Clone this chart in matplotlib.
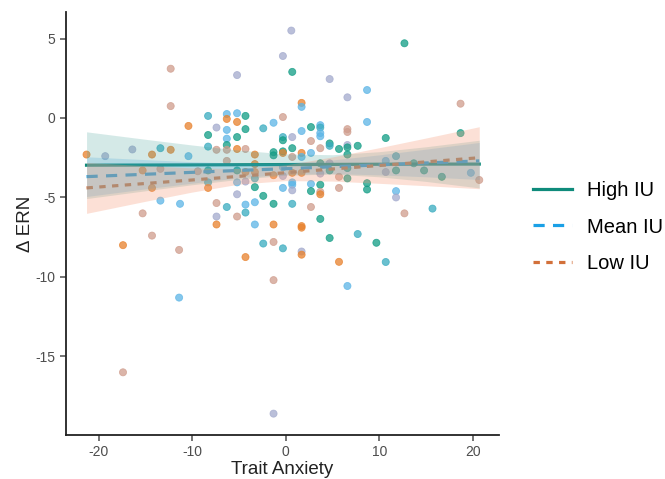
import matplotlib
matplotlib.use("Agg")
import matplotlib.pyplot as plt
import numpy as np
from matplotlib.lines import Line2D

plt.rcParams['font.family'] = ['Liberation Sans', 'DejaVu Sans']
plt.rcParams['axes.unicode_minus'] = False

# ---- scatter data: trait anxiety (centered), delta ERN, colour group ----
pt_x = [-21.3, -19.3, -17.4, -17.4, -16.4, -15.3, -15.3, -14.3, -14.3, -14.3,
        -13.4, -13.4, -13.4, -12.3, -12.3, -12.3, -11.3, -11.4, -11.4, -10.4,
        -10.4, -9.4, -8.3, -8.3, -8.3, -8.3, -8.3, -8.3, -7.4, -7.4,
        -7.4, -7.4, -7.4, -6.3, -6.3, -6.3, -6.3, -6.3, -6.3, -6.3,
        -6.3, -5.2, -5.2, -5.2, -5.2, -5.2, -5.2, -5.2, -5.2, -5.2,
        -4.3, -4.3, -4.3, -4.3, -4.3, -4.3, -4.3, -4.3, -3.3, -3.3,
        -3.3, -3.3, -3.3, -3.3, -3.3, -2.4, -2.4, -2.4, -1.3, -1.3,
        -1.3, -1.3, -1.3, -1.3, -1.3, -1.3, -1.3, 0.6, -0.3, -0.3,
        -0.3, -0.3, -0.3, -0.3, -0.3, -0.3, -0.3, -0.3, 0.7, 0.7,
        0.7, 0.7, 0.7, 0.7, 0.7, 0.7, 0.7, 1.7, 1.7, 1.7,
        1.7, 1.7, 1.7, 1.7, 1.7, 1.7, 1.7, 2.7, 2.7, 2.7,
        2.7, 2.7, 2.7, 3.7, 3.7, 3.7, 3.7, 3.7, 3.7, 3.7,
        3.7, 3.7, 3.7, 3.7, 4.7, 4.7, 4.7, 4.7, 4.7, 4.7,
        5.7, 5.7, 5.7, 5.7, 6.6, 6.6, 6.6, 6.6, 6.6, 6.6,
        6.6, 6.6, 6.6, 7.7, 7.7, 8.7, 8.7, 8.7, 8.7, 9.7,
        10.7, 10.7, 10.7, 10.7, 11.8, 11.8, 11.8, 11.8, 12.7, 12.7,
        13.7, 14.8, 15.7, 16.7, 18.7, 18.7, 19.8, 20.7]
pt_y = [-2.3, -2.4, -8.0, -16.0, -1.98, -3.3, -6.0, -2.3, -4.4, -7.4,
        -1.9, -3.2, -5.2, 3.1, 0.75, -2.0, -5.4, -8.3, -11.3, -0.5,
        -2.4, -3.35, 0.13, -1.07, -1.8, -3.3, -4.05, -4.4, -0.6, -2.0,
        -5.35, -6.2, -6.7, 0.25, -0.06, -0.75, -1.3, -1.7, -2.0, -2.7,
        -5.6, 2.7, 0.3, -0.25, -1.2, -1.95, -3.3, -4.05, -4.8, -6.2,
        0.13, -0.7, -1.95, -3.4, -4.0, -5.45, -5.95, -8.75, -2.3, -2.9,
        -3.4, -3.8, -4.35, -5.3, -6.7, -0.65, -4.9, -7.9, -0.3, -2.15,
        -2.35, -3.6, -5.4, -6.7, -7.8, -10.2, -18.6, 5.5, 3.9, 0.06,
        -1.2, -1.4, -2.1, -2.2, -3.1, -3.65, -4.4, -8.2, 2.9, -1.2,
        -1.9, -2.45, -3.45, -4.05, -4.2, -4.55, -5.4, 0.95, 0.7, -0.82,
        -2.2, -2.45, -3.45, -6.8, -6.9, -8.4, -8.6, -0.57, -1.45, -2.2,
        -4.15, -4.6, -5.6, -0.45, -0.6, -0.95, -1.15, -1.9, -2.85, -3.5,
        -4.2, -4.65, -4.8, -6.35, 2.45, -1.6, -1.75, -2.85, -3.3, -7.55,
        -1.95, -3.7, -4.4, -9.05, 1.3, -0.7, -0.88, -1.7, -1.85, -2.3,
        -3.15, -3.8, -10.57, -1.75, -7.3, 1.76, -0.25, -4.1, -4.5, -7.85,
        -1.26, -2.7, -3.4, -9.06, -2.4, -3.3, -4.6, -5.0, 4.7, -6.0,
        -2.85, -3.3, -5.7, -3.7, 0.9, -0.95, -3.45, -3.9]
pt_grp = ['O', 'L', 'O', 'M', 'L', 'O', 'M', 'O', 'O', 'M',
          'C', 'M', 'B', 'M', 'M', 'O', 'B', 'M', 'B', 'O',
          'B', 'M', 'C', 'T', 'C', 'T', 'C', 'O', 'L', 'M',
          'M', 'L', 'O', 'B', 'O', 'B', 'B', 'T', 'M', 'M',
          'C', 'L', 'B', 'O', 'T', 'O', 'T', 'B', 'L', 'M',
          'T', 'T', 'M', 'O', 'L', 'B', 'C', 'O', 'O', 'O',
          'O', 'C', 'T', 'B', 'B', 'C', 'T', 'C', 'B', 'T',
          'T', 'O', 'T', 'O', 'M', 'M', 'L', 'L', 'L', 'M',
          'C', 'T', 'T', 'O', 'B', 'L', 'B', 'C', 'T', 'L',
          'T', 'M', 'O', 'B', 'B', 'L', 'C', 'O', 'B', 'B',
          'O', 'B', 'O', 'O', 'O', 'L', 'O', 'T', 'M', 'B',
          'B', 'T', 'M', 'B', 'C', 'B', 'B', 'M', 'T', 'L',
          'T', 'M', 'O', 'T', 'L', 'T', 'C', 'L', 'T', 'T',
          'T', 'M', 'M', 'O', 'L', 'M', 'M', 'L', 'T', 'T',
          'T', 'T', 'B', 'T', 'C', 'B', 'B', 'T', 'T', 'T',
          'T', 'B', 'L', 'C', 'C', 'T', 'B', 'L', 'T', 'M',
          'T', 'T', 'C', 'T', 'M', 'T', 'B', 'M']
grp_colors = {'T': '#109c84', 'C': '#38abbf', 'B': '#5cb5e6',
              'L': '#a3aacd', 'M': '#cf9c8c', 'O': '#e8812c'}

# ---- fitted simple slopes with confidence bands ----
line_x = [-21.3, -15, -10, -5, 0, 5, 10, 15, 20.7]
high_fit = [-2.97, -2.96, -2.95, -2.94, -2.93, -2.92, -2.91, -2.90, -2.90]
high_hi = [-0.87, -1.34, -1.70, -2.02, -2.26, -2.31, -2.12, -1.81, -1.40]
high_lo = [-5.07, -4.58, -4.20, -3.86, -3.60, -3.53, -3.70, -3.99, -4.40]
mean_fit = [-3.69, -3.54, -3.42, -3.30, -3.19, -3.07, -2.95, -2.83, -2.70]
mean_hi = [-2.44, -2.62, -2.75, -2.84, -2.84, -2.64, -2.32, -1.96, -1.54]
mean_lo = [-4.94, -4.46, -4.10, -3.76, -3.54, -3.50, -3.58, -3.70, -3.87]
low_fit = [-4.40, -4.12, -3.90, -3.67, -3.44, -3.21, -2.99, -2.76, -2.50]
low_hi = [-2.80, -3.00, -3.14, -3.18, -2.95, -2.45, -1.87, -1.26, -0.55]
low_lo = [-6.00, -5.24, -4.66, -4.16, -3.94, -3.97, -4.11, -4.26, -4.45]

legend_labels = ['High IU', 'Mean IU', 'Low IU']
x_ticks = [-20, -10, 0, 10, 20]
y_ticks = [5, 0, -5, -10, -15]

fig = plt.figure(figsize=(6.65, 4.79), dpi=100)
ax = fig.add_axes([0.0992, 0.092, 0.651, 0.883])

cols = [grp_colors[g] for g in pt_grp]
ax.scatter(pt_x, pt_y, s=26, c=cols, alpha=0.75, edgecolors=cols,
           linewidths=0.6, zorder=2)

c_high, c_mean, c_low = '#0f8b7b', '#1aa0e6', '#d2703a'
ax.plot(line_x, high_fit, color=c_high, lw=2.3, zorder=3)
ax.plot(line_x, mean_fit, color=c_mean, lw=2.3, dashes=(3.5, 2.6), zorder=3)
ax.plot(line_x, low_fit, color=c_low, lw=2.3, dashes=(2.0, 2.0), zorder=3)

ax.fill_between(line_x, high_lo, high_hi, color='#3f9f94', alpha=0.22, lw=0, zorder=4)
ax.fill_between(line_x, mean_lo, mean_hi, color='#3fa3d8', alpha=0.22, lw=0, zorder=4)
ax.fill_between(line_x, low_lo, low_hi, color='#f79a78', alpha=0.3, lw=0, zorder=4)

ax.set_xlim(-23.5, 22.8)
ax.set_ylim(-19.94, 6.67)
ax.set_xticks(x_ticks)
ax.set_yticks(y_ticks)
ax.tick_params(axis='both', labelsize=10, colors='#4d4d4d', length=4, width=1.1)
for sp in ['top', 'right']:
    ax.spines[sp].set_visible(False)
for sp in ['left', 'bottom']:
    ax.spines[sp].set_linewidth(1.3)
    ax.spines[sp].set_color('#222222')
ax.set_xlabel('Trait Anxiety', fontsize=13.5, color='#222222', labelpad=1)
ax.set_ylabel('Δ ERN', fontsize=13.5, color='#222222', labelpad=1)

handles = [Line2D([], [], color=c_high, lw=2.3),
           Line2D([], [], color=c_mean, lw=2.3, dashes=(3.5, 2.6)),
           Line2D([], [], color=c_low, lw=2.3, dashes=(2.0, 2.0))]
fig.legend(handles, legend_labels, loc='center left',
           bbox_to_anchor=(0.8015, 0.526), frameon=False, fontsize=14.5,
           handlelength=1.94, handletextpad=0.75, labelspacing=0.85,
           borderpad=0, borderaxespad=0)

fig.savefig('out.png', dpi=100)
